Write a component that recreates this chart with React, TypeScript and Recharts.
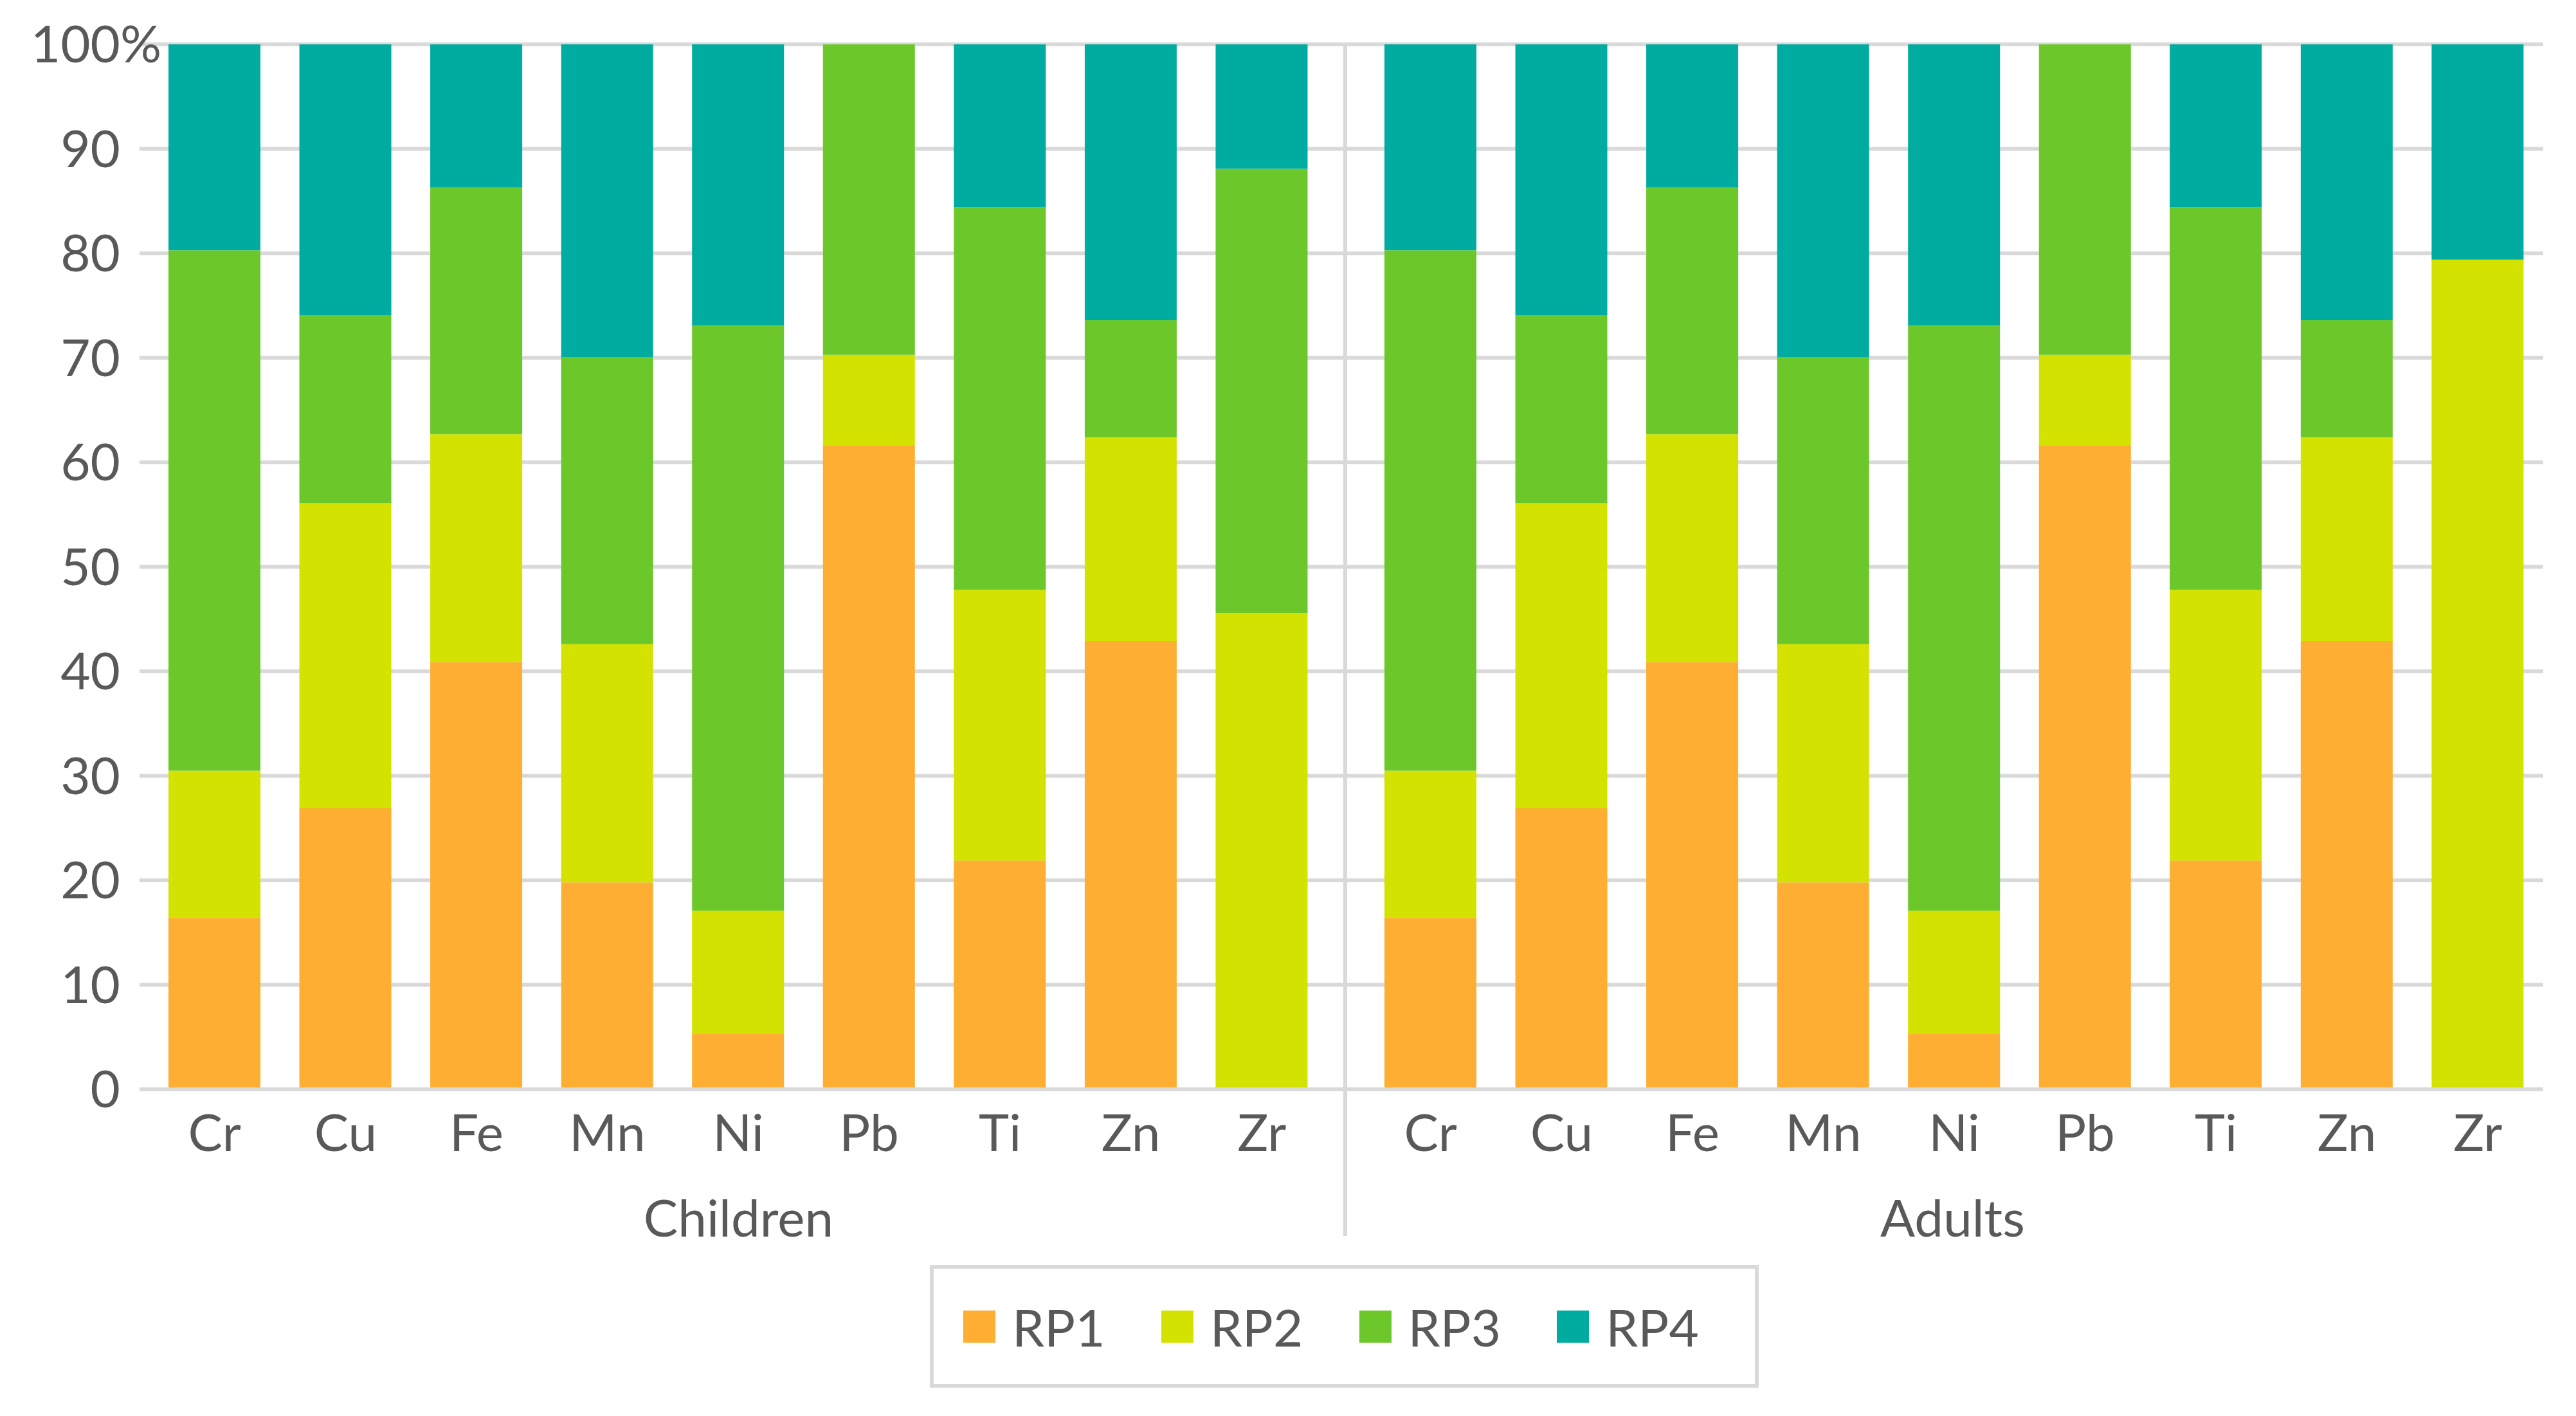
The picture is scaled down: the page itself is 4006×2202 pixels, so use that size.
import { Bar, BarChart, CartesianGrid, Label, Legend, XAxis, YAxis } from "recharts";

const elements = ["Cr", "Cu", "Fe", "Mn", "Ni", "Pb", "Ti", "Zn", "Zr"];
const yTicks = [0, 10, 20, 30, 40, 50, 60, 70, 80, 90, 100];

// percentage share of each risk pathway, children
const childrenRP1 = [16.4, 26.9, 40.9, 19.8, 5.3, 61.6, 21.9, 42.9, 0];
const childrenRP2 = [14.1, 29.2, 21.8, 22.8, 11.8, 8.7, 25.9, 19.5, 45.6];
const childrenRP3 = [49.8, 18.0, 23.6, 27.5, 56.0, 29.7, 36.6, 11.2, 42.5];
const childrenRP4 = [19.7, 25.9, 13.7, 29.9, 26.9, 0, 15.6, 26.4, 11.9];

// adults
const adultsRP1 = [16.4, 26.9, 40.9, 19.8, 5.3, 61.6, 21.9, 42.9, 0];
const adultsRP2 = [14.1, 29.2, 21.8, 22.8, 11.8, 8.7, 25.9, 19.5, 79.4];
const adultsRP3 = [49.8, 18.0, 23.6, 27.5, 56.0, 29.7, 36.6, 11.2, 0];
const adultsRP4 = [19.7, 25.9, 13.7, 29.9, 26.9, 0, 15.6, 26.4, 20.6];

const series = ["RP1", "RP2", "RP3", "RP4"];
const COLORS: Record<string, string> = {
  RP1: "#FDAE33",
  RP2: "#D4E200",
  RP3: "#6CC72B",
  RP4: "#00AB9F",
};

const FONT = "Lato, 'Open Sans', sans-serif";
const TEXT = "#595959";
const GRID = "#D9D9D9";

function buildRows(rp1: number[], rp2: number[], rp3: number[], rp4: number[]) {
  return elements.map((element, i) => ({ element, RP1: rp1[i], RP2: rp2[i], RP3: rp3[i], RP4: rp4[i] }));
}

const childrenRows = buildRows(childrenRP1, childrenRP2, childrenRP3, childrenRP4);
const adultsRows = buildRows(adultsRP1, adultsRP2, adultsRP3, adultsRP4);

function YTick(props: any) {
  const { x, y, payload } = props;
  return (
    <g>
      <text x={x} y={y} dy="0.355em" textAnchor="end" fill={TEXT} fontSize={80} fontFamily={FONT}>
        {payload.value}
      </text>
      {payload.value === 100 && (
        <text x={x} y={y} dy="0.355em" textAnchor="start" fill={TEXT} fontSize={80} fontFamily={FONT}>
          %
        </text>
      )}
    </g>
  );
}

function LegendBox(props: any) {
  const payload = props.payload ?? [];
  return (
    <div
      style={{
        boxSizing: "border-box",
        width: 1289,
        height: 191,
        border: `6px solid ${GRID}`,
        background: "#fff",
        display: "flex",
        alignItems: "center",
        paddingLeft: 46,
      }}
    >
      {payload.map((entry: any) => (
        <div key={entry.value} style={{ display: "flex", alignItems: "center", width: 323 }}>
          <span style={{ display: "inline-block", width: 50, height: 50, background: entry.color, marginRight: 26 }} />
          <span style={{ fontSize: 80, lineHeight: 1, color: TEXT, fontFamily: FONT }}>{entry.value}</span>
        </div>
      ))}
    </div>
  );
}

const tickStyle = { fill: TEXT, fontSize: 80, fontFamily: FONT };

function renderBars() {
  return series.map((key) => (
    <Bar key={key} dataKey={key} name={key} stackId="a" fill={COLORS[key]} isAnimationActive={false} />
  ));
}

export default function App() {
  return (
    <div style={{ position: "absolute", left: 0, top: 0, width: 4006, height: 2202, background: "#fff", fontFamily: FONT }}>
      <div style={{ position: "absolute", left: 0, top: 0 }}>
        <BarChart width={2092} height={2004} data={childrenRows} margin={{ top: 69, right: 0, bottom: 0, left: 0 }} barSize={143}>
          <CartesianGrid vertical={false} stroke={GRID} strokeWidth={6} />
          <XAxis
            dataKey="element"
            padding={{ left: 15, right: 28 }}
            height={310}
            tickLine={false}
            axisLine={{ stroke: GRID, strokeWidth: 6 }}
            tickMargin={33}
            tick={tickStyle}
            interval={0}
          >
            <Label value="Children" position="insideBottom" offset={81} fill={TEXT} fontSize={80} fontFamily={FONT} dx={-6} />
          </XAxis>
          <YAxis domain={[0, 100]} ticks={yTicks} width={217} tickLine={false} axisLine={false} tickMargin={24} tick={<YTick />} interval={0} />
          {renderBars()}
          <Legend
            layout="horizontal"
            verticalAlign="middle"
            align="center"
            wrapperStyle={{ top: 1967, left: 1446, width: 1289, height: 191, bottom: "auto", right: "auto", zIndex: 2 }}
            content={<LegendBox />}
          />
        </BarChart>
      </div>
      <div style={{ position: "absolute", left: 2092, top: 0 }}>
        <BarChart width={1914} height={2004} data={adultsRows} margin={{ top: 69, right: 51, bottom: 0, left: 0 }} barSize={143}>
          <CartesianGrid vertical={false} stroke={GRID} strokeWidth={6} />
          <XAxis
            dataKey="element"
            padding={{ left: 31, right: 0 }}
            height={310}
            tickLine={false}
            axisLine={{ stroke: GRID, strokeWidth: 6 }}
            tickMargin={33}
            tick={tickStyle}
            interval={0}
          >
            <Label value="Adults" position="insideBottom" offset={81} fill={TEXT} fontSize={80} fontFamily={FONT} dx={13} />
          </XAxis>
          <YAxis hide domain={[0, 100]} ticks={yTicks} />
          {renderBars()}
        </BarChart>
      </div>
      {/* group separator line */}
      <div style={{ position: "absolute", left: 2089, top: 69, width: 6, height: 1853, background: GRID }} />
    </div>
  );
}
